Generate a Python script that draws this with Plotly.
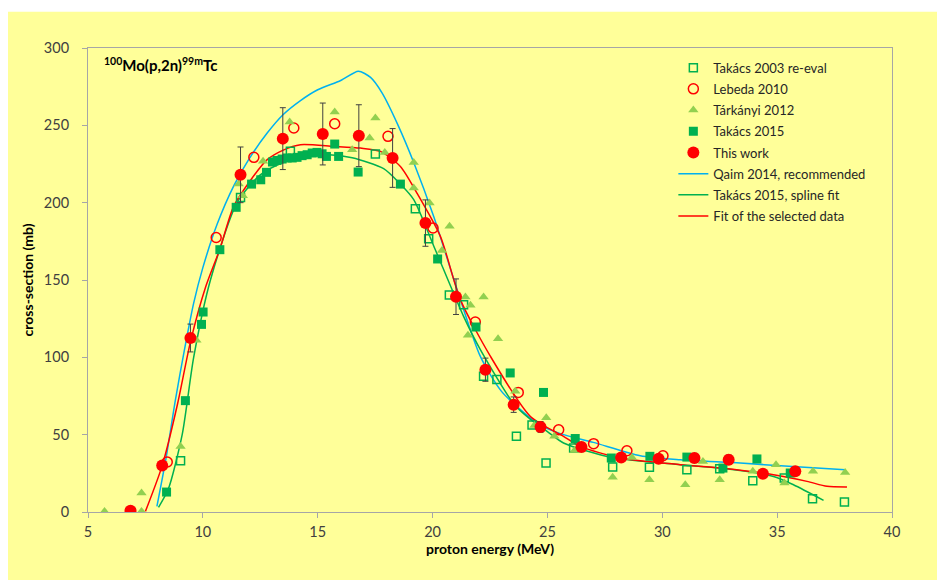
import plotly.graph_objects as go

# ---------------- data ----------------
tak2003_x = [9.03, 11.64, 13.81, 17.51, 19.25, 19.83, 20.73, 21.35, 22.22, 22.80, 23.65, 24.33,
             24.94, 26.14, 27.84, 29.44, 31.07, 32.50, 33.94, 35.31, 36.54, 37.93]
tak2003_y = [33.2, 203.4, 233.2, 231.5, 196.0, 176.6, 140.3, 134.0, 87.7, 85.7, 49.0, 56.2,
             31.7, 41.4, 29.1, 29.0, 27.3, 28.0, 20.2, 22.0, 8.6, 6.5]

leb_x = [8.45, 10.58, 12.22, 13.96, 15.74, 18.06, 20.02, 21.86, 23.73, 25.49, 27.01, 28.46, 30.03]
leb_y = [32.3, 177.5, 229.3, 248.3, 251.0, 242.9, 183.6, 122.8, 77.3, 53.2, 44.2, 39.6, 36.4]

tar_x = [5.72, 7.33, 7.33, 9.03, 9.72, 11.56, 11.74, 12.62, 13.78, 15.74, 16.50, 17.26, 17.51,
         17.92, 19.18, 19.18, 19.87, 20.41, 20.74, 21.43, 21.65, 21.54, 22.22, 22.85, 23.60,
         24.43, 24.95, 25.30, 26.18, 27.84, 28.68, 29.44, 31.00, 31.77, 32.50, 33.94, 34.95,
         35.32, 36.56, 37.96]
tar_y = [0.4, 12.3, 0.4, 42.4, 111.0, 212.0, 204.5, 226.7, 252.1, 258.6, 234.2, 241.8, 254.7,
         232.5, 226.0, 209.5, 199.8, 169.1, 184.7, 139.0, 133.6, 114.2, 139.0, 112.0, 78.0,
         56.0, 61.0, 48.9, 39.8, 22.4, 35.3, 20.9, 17.6, 32.7, 20.9, 26.3, 30.6,
         18.7, 26.3, 25.6]

tak2015_x = [8.42, 9.24, 9.94, 10.01, 10.74, 11.45, 12.12, 12.52, 12.77, 13.03, 13.23, 13.45,
             13.67, 13.89, 14.10, 14.32, 14.54, 14.76, 14.97, 15.19, 15.38, 15.74, 15.91,
             16.76, 18.60, 20.22, 21.89, 23.38, 24.83, 26.21, 27.78, 29.46, 31.07, 32.64,
             34.12, 35.57]
tak2015_y = [12.9, 72.0, 121.3, 129.3, 169.6, 197.0, 212.0, 214.8, 219.6, 226.3, 227.3, 228.2,
             228.9, 228.9, 229.3, 230.4, 231.0, 232.1, 232.5, 231.6, 229.9, 237.9, 229.9,
             219.8, 212.0, 163.6, 119.6, 89.9, 77.3, 47.5, 34.9, 36.0, 35.5, 28.4,
             34.3, 25.2]

this_x = [6.85, 8.23, 9.46, 11.64, 13.48, 15.22, 16.79, 18.26, 19.69, 21.02, 22.30, 23.53,
          24.70, 26.48, 28.21, 29.84, 31.40, 32.89, 34.38, 35.79]
this_y = [0.8, 30.0, 112.5, 218.0, 241.4, 244.4, 243.3, 228.9, 186.8, 139.2, 92.0, 69.4,
          55.0, 42.0, 35.3, 34.4, 34.9, 33.8, 24.8, 26.3]
this_err = [0, 0, 9, 18, 20, 20, 20, 19, 15, 11.5, 7.5, 5,
            3.5, 3, 2.5, 2.5, 3, 3, 2, 2.5]

qaim_x = [8.00, 8.40, 8.80, 9.20, 9.60, 10.00, 10.62, 11.35, 12.00, 12.80, 13.50, 14.25,
          15.00, 16.00, 16.77, 17.30, 17.80, 18.50, 19.18, 20.05, 21.07, 22.08, 23.00, 24.55,
          25.50, 27.00, 29.04, 30.78, 33.39, 35.50, 37.96]
qaim_y = [3.6, 35, 72, 105, 135, 158, 186, 211, 228, 245, 257, 266,
          273, 279, 285, 281, 271, 250, 226, 191, 143.7, 100.6, 78, 57.5,
          51, 45, 36.4, 33.8, 31.7, 29.5, 27.3]

spline_x = [8.07, 8.50, 9.10, 9.60, 10.33, 11.49, 12.50, 13.50, 14.50, 15.50, 16.50, 17.87,
            18.60, 19.18, 20.05, 21.35, 22.08, 23.53, 24.25, 25.00, 25.70, 27.88, 30.78, 32.52,
            34.84, 35.71, 37.02]
spline_y = [3, 15, 50, 100, 150, 200, 218, 226, 230, 231, 229, 222,
            212, 202, 172, 126.5, 105, 70, 60, 52, 44.6, 35, 30.6, 28.4,
            23, 17.6, 7.5]

fit_x = [7.50, 8.23, 8.90, 9.46, 10.11, 10.74, 11.34, 12.10, 12.80, 13.50, 14.25, 15.70,
         16.86, 17.73, 18.60, 19.32, 20.34, 21.21, 22.52, 24.26, 25.70, 26.43, 28.17, 30.78,
         32.52, 34.84, 36.30, 37.17, 38.04]
fit_y = [0.4, 30, 70, 110, 145, 170, 197.6, 215, 227.8, 234, 237.5, 236.4,
         235.3, 233.2, 223.4, 206.2, 178.2, 137.3, 100.6, 61.8, 48.9, 42.4, 34.9, 30.6,
         28.4, 24.1, 19.8, 16.6, 16.2]

x_ticks = [5, 10, 15, 20, 25, 30, 35, 40]
y_ticks = [0, 50, 100, 150, 200, 250, 300]

# ---------------- styling ----------------
YELLOW = "#FFFF99"
FONT = "Lato"
TXT = "#404040"
AXC = "#A6A6A6"

fig = go.Figure()

# lines first (drawn below the markers), ranked after markers in the legend
fig.add_trace(go.Scatter(x=qaim_x, y=qaim_y, mode="lines", name="Qaim 2014, recommended",
                         line=dict(color="#00B0F0", width=1.5, shape="spline", smoothing=0.7),
                         legendrank=6, legendgroup="g6"))
fig.add_trace(go.Scatter(x=spline_x, y=spline_y, mode="lines", name="Takács 2015, spline fit",
                         line=dict(color="#00B050", width=1.5, shape="spline", smoothing=0.7),
                         legendrank=7, legendgroup="g7"))
fig.add_trace(go.Scatter(x=fit_x, y=fit_y, mode="lines", name="Fit of the selected data",
                         line=dict(color="#FF0000", width=1.5, shape="spline", smoothing=0.7),
                         legendrank=8, legendgroup="g8"))

fig.add_trace(go.Scatter(x=tak2003_x, y=tak2003_y, mode="markers", name="Takács 2003 re-eval",
                         marker=dict(symbol="square-open", size=8, color="#00B050",
                                     line=dict(width=1.5, color="#00B050")),
                         legendrank=1, legendgroup="g1"))
fig.add_trace(go.Scatter(x=leb_x, y=leb_y, mode="markers", name="Lebeda 2010",
                         marker=dict(symbol="circle-open", size=10, color="#FF0000",
                                     line=dict(width=1.5, color="#FF0000")),
                         legendrank=2, legendgroup="g2"))
fig.add_trace(go.Scatter(x=tar_x, y=tar_y, mode="markers", name="Tárkányi 2012",
                         marker=dict(symbol="triangle-up", size=9, color="#92D050"),
                         legendrank=3, legendgroup="g3"))
fig.add_trace(go.Scatter(x=tak2015_x, y=tak2015_y, mode="markers", name="Takács 2015",
                         marker=dict(symbol="square", size=9, color="#00B050"),
                         legendrank=4, legendgroup="g4"))
fig.add_trace(go.Scatter(x=this_x, y=this_y, mode="markers", name="This work",
                         marker=dict(symbol="circle", size=12, color="#FF0000"),
                         error_y=dict(type="data", array=this_err, visible=True,
                                      color="#404040", thickness=1, width=3),
                         legendrank=5, legendgroup="g5"))

# page has an 8px body margin: figure pixel = reference pixel - 8
W, H = 937, 572
L, T = 79.5, 40.3
R = W - 883.7
B = H - 504.3
pw, ph = W - L - R, H - T - B
ybot = T + ph  # pixel of y=0 in figure coords


def px(xp):
    return (xp - L) / pw


def py(yp):
    return (ybot - yp) / ph


fig.update_layout(
    width=W, height=H,
    margin=dict(l=L, r=R, t=T, b=B, pad=0),
    paper_bgcolor=YELLOW,
    plot_bgcolor=YELLOW,
    font=dict(family=FONT, color=TXT, size=14),
    showlegend=True,
    legend=dict(x=px(665), y=py(45), xanchor="left", yanchor="top",
                bgcolor="rgba(0,0,0,0)", font=dict(size=13, color="#262626", family=FONT),
                traceorder="grouped", tracegroupgap=1.3),
    xaxis=dict(range=[5, 40], tickvals=x_ticks, ticks="outside", ticklen=5, tickcolor=AXC,
               showline=True, linecolor=AXC, linewidth=1, mirror=True, showgrid=False,
               zeroline=False, tickfont=dict(size=14.5, color=TXT), ticklabelstandoff=2,
               title=dict(text="<b>proton energy (MeV)</b>", font=dict(size=14, color="#000000"),
                          standoff=2)),
    yaxis=dict(range=[0, 300], tickvals=y_ticks, ticks="outside", ticklen=5, tickcolor=AXC,
               showline=True, linecolor=AXC, linewidth=1, mirror=True, showgrid=False,
               zeroline=False, tickfont=dict(size=14.5, color=TXT), ticklabelstandoff=10,
               title=dict(text="<b>cross-section (mb)</b>", font=dict(size=14, color="#000000"),
                          standoff=6)),
    shapes=[dict(type="rect", xref="paper", yref="paper", layer="below",
                 x0=px(-20), x1=px(W + 20), y0=py(4), y1=py(-20),
                 fillcolor="white", line=dict(width=0))],
    annotations=[dict(text="<b><sup>100</sup>Mo(p,2n)<sup>99m</sup>Tc</b>", xref="paper", yref="paper",
                      x=px(93.7), y=py(57), xanchor="left", yanchor="middle",
                      showarrow=False, font=dict(size=15, color="#000000", family=FONT))],
)

fig.write_html("out.html")
